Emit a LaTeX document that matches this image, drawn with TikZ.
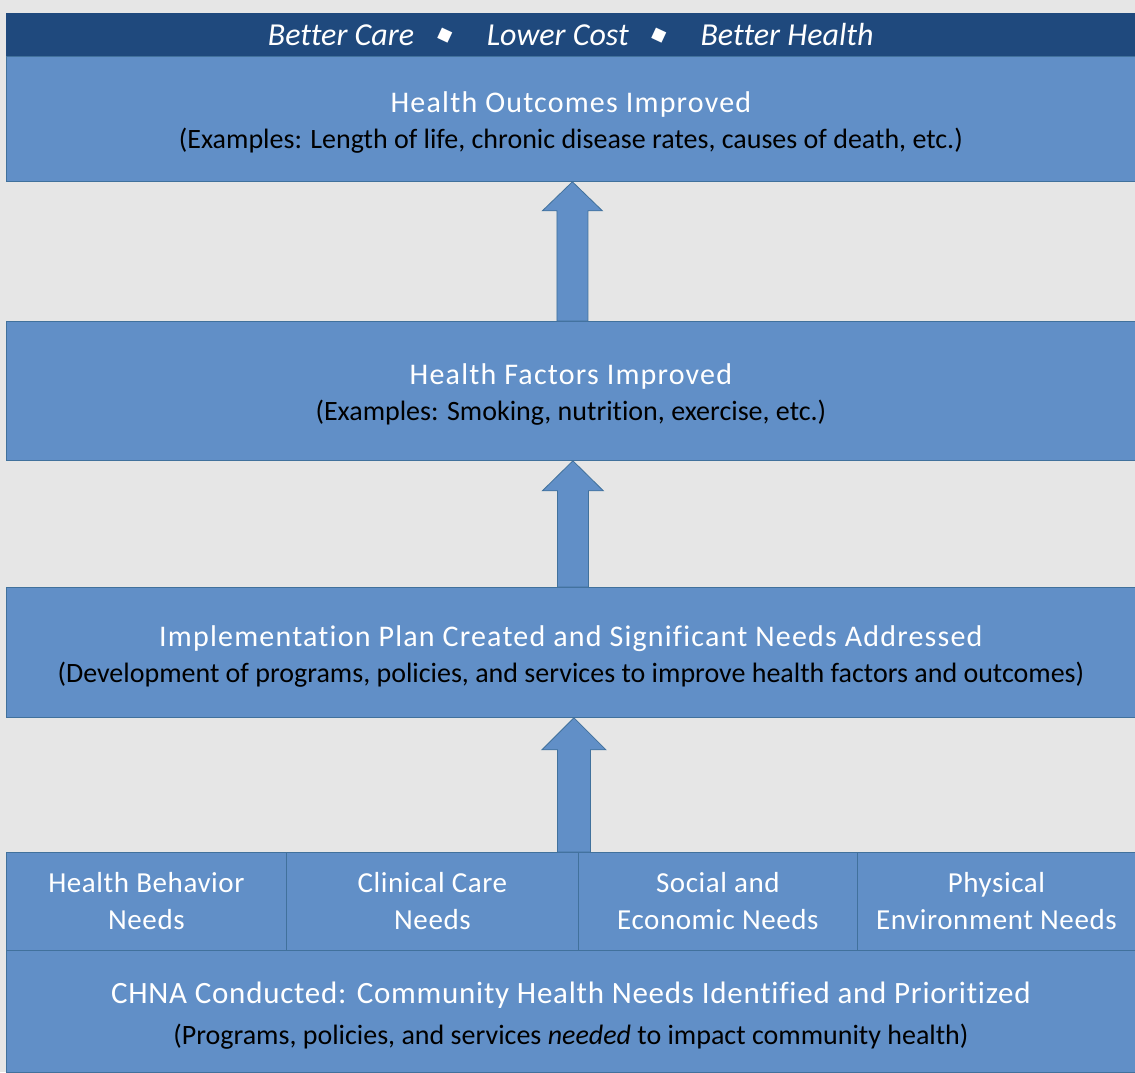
\documentclass[tikz,border=0pt]{standalone}
\usepackage{fontspec}
\defaultfontfeatures{Ligatures=NoCommon}
\setmainfont{Carlito}
\newfontfamily\titlefont[LetterSpace=4]{Carlito}
\newfontfamily\rowfont[LetterSpace=2]{Carlito}
\newfontfamily\chnafont[LetterSpace=2.4]{Carlito}
\newfontfamily\symfont{DejaVu Sans}
\usetikzlibrary{calc}
\definecolor{bggray}{HTML}{E6E6E6}
\definecolor{boxblue}{HTML}{618FC7}
\definecolor{edgeblue}{HTML}{41719C}
\definecolor{darkbar}{HTML}{1F497D}
\newcommand\ttltxt[1]{{\titlefont\fontsize{30}{36}\selectfont\color{white}\rule{0pt}{28pt}#1}}
\newcommand\subtxt[1]{{\fontsize{28}{36}\selectfont\color{black}#1}}
\newcommand\sepdiamond{\raisebox{5pt}{\rotatebox[origin=c]{20}{\symfont\fontsize{21}{21}\selectfont ◆}}}
% #1 = source node (arrow tail on its north side), #2 = target node (tip on its south side)
\newcommand\blockarrow[6]{%
  \path[arrowshape] let \p1=(#1.north), \p2=([xshift=#6]#2.south) in
  (\x2-#3,\y1) -- (\x2-#3,\y2-#5) -- (\x2-#4,\y2-#5) -- (\x2,\y2)
  -- (\x2+#4,\y2-#5) -- (\x2+#3,\y2-#5) -- (\x2+#3,\y1) -- cycle;}
\tikzset{
  panel/.style={draw=edgeblue, line width=0.8pt, fill=boxblue, anchor=north west,
    inner sep=0pt, align=center, font=\fontsize{28}{36}\selectfont},
  rowpanel/.style={panel, minimum height=98pt, text=white,
    font=\rowfont\fontsize{29}{37}\selectfont},
  arrowshape/.style={draw=edgeblue, line width=0.8pt, fill=boxblue},
}
\begin{document}
\begin{tikzpicture}[x=1pt,y=-1pt]
\fill[bggray] (0,0) rectangle (1135,1072);
\useasboundingbox (0,0) rectangle (1135,1072);
% top bar
\node[fill=darkbar, anchor=north west, minimum width=1129pt, minimum height=43pt,
  inner sep=0pt, text=white, font=\fontsize{32}{36}\selectfont] (bar) at (6,13)
  {\textit{Better Care}\hspace{21pt}\sepdiamond\hspace{31pt}\textit{Lower Cost}\hspace{20pt}\sepdiamond\hspace{31pt}\textit{Better Health}};
% main boxes
\node[panel, minimum width=1129pt, minimum height=125pt] (outcomes) at (6,56)
  {\ttltxt{Health Outcomes Improved}\\ \subtxt{(Examples: Length of life, chronic disease rates, causes of death, etc.)}};
\node[panel, minimum width=1129pt, minimum height=139pt] (factors) at (6,321)
  {\ttltxt{Health Factors Improved}\\ \subtxt{(Examples: Smoking, nutrition, exercise, etc.)}};
\node[panel, minimum width=1129pt, minimum height=130pt] (plan) at (6,587)
  {\ttltxt{Implementation Plan Created and Significant Needs Addressed}\\ \subtxt{(Development of programs, policies, and services to improve health factors and outcomes)}};
% need boxes
\node[rowpanel, minimum width=280pt] (behav) at (6,852) {Health Behavior\\Needs};
\node[rowpanel, minimum width=292pt] (clin) at (286,852) {Clinical Care\\Needs};
\node[rowpanel, minimum width=279pt] (socio) at (578,852) {Social and\\Economic Needs};
\node[rowpanel, minimum width=278pt] (phys) at (857,852) {Physical\\Environment Needs};
% bottom box
\node[panel, minimum width=1129pt, minimum height=122pt, font=\fontsize{28}{41}\selectfont] (chna) at (6,950)
  {{\chnafont\fontsize{31}{41}\selectfont\color{white}\rule{0pt}{29.5pt}CHNA Conducted: Community Health Needs Identified and Prioritized}\\
   \subtxt{(Programs, policies, and services \textit{needed} to impact community health)}};
% block arrows
\blockarrow{factors}{outcomes}{15.5pt}{30pt}{29pt}{1.5pt}
\blockarrow{plan}{factors}{15.5pt}{30.5pt}{30pt}{2pt}
\blockarrow{clin}{plan}{16.5pt}{32pt}{32pt}{3pt}
\end{tikzpicture}
\end{document}
